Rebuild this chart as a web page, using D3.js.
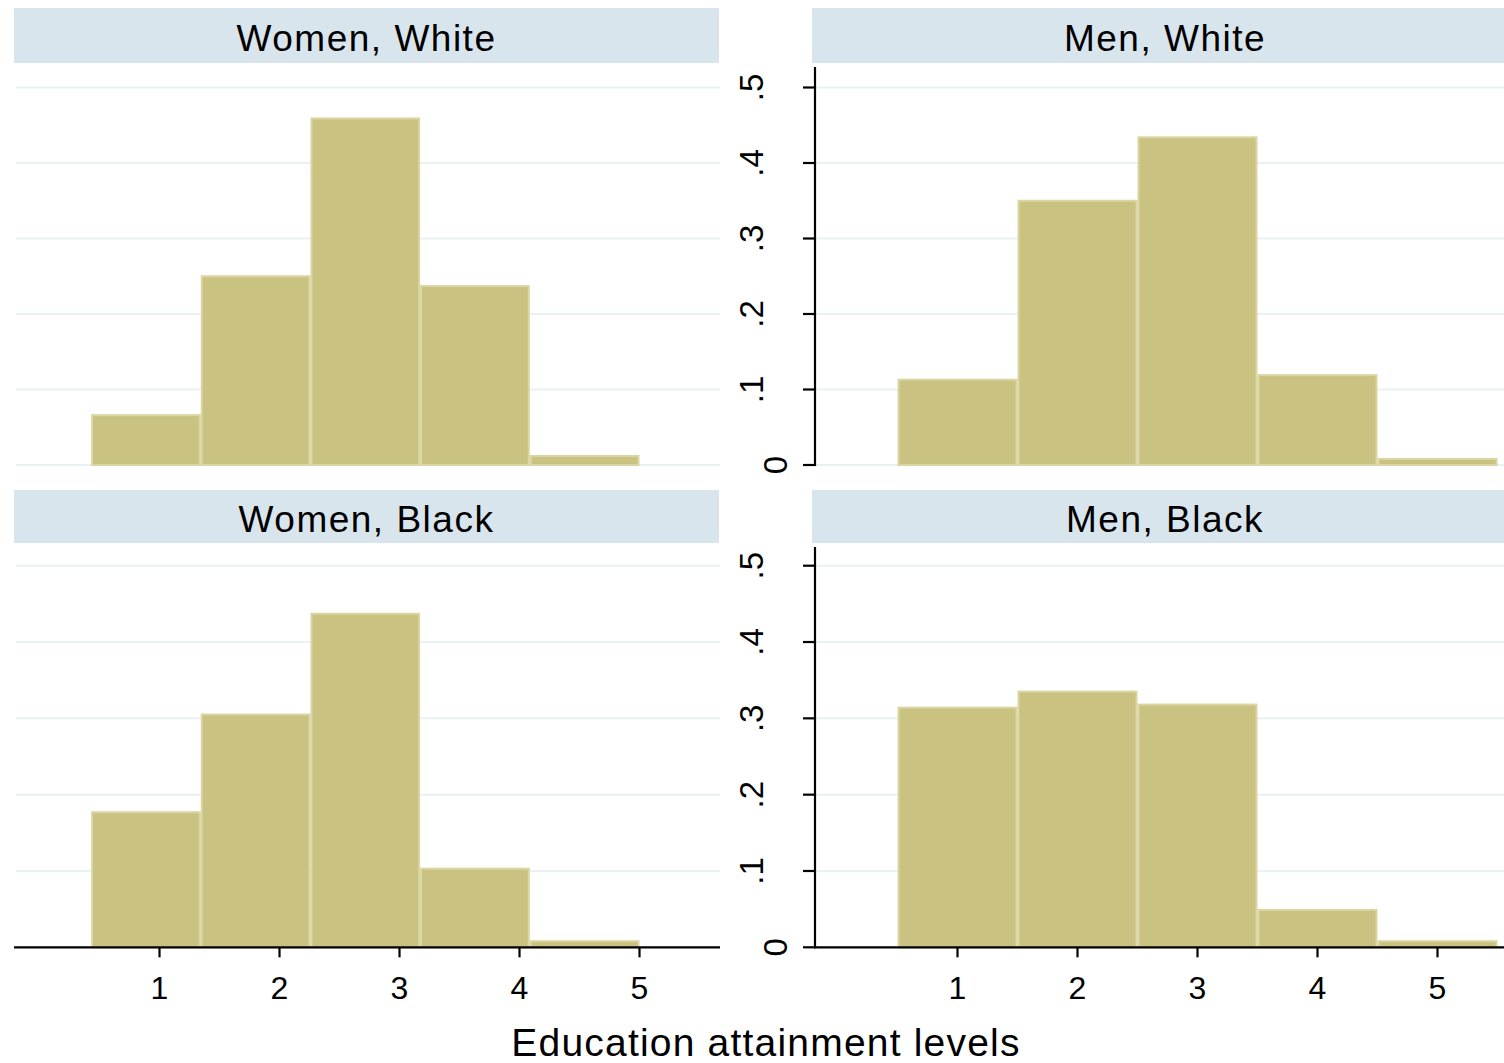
<!DOCTYPE html>
<html>
<head>
<meta charset="utf-8">
<script src="https://cdn.jsdelivr.net/npm/d3@7"></script>
<style>
  html, body { margin: 0; padding: 0; background: #ffffff; overflow: hidden; }
  svg { display: block; font-family: "Liberation Sans", Arial, sans-serif; }
</style>
</head>
<body>
<svg id="chart" width="1504" height="1063"></svg>
<script>
// Education attainment histograms by sex and race (fractions per bin)
const panelTitles = ["Women, White", "Men, White", "Women, Black", "Men, Black"];
const xTickValues = [1, 2, 3, 4, 5];
const yTickValues = [0, 0.1, 0.2, 0.3, 0.4, 0.5];
const yTickLabels = ["0", ".1", ".2", ".3", ".4", ".5"];
const axisTitle = "Education attainment levels";

// bin edges used for each sex
const womenBinEdges = [0.43, 1.344, 2.258, 3.172, 4.086, 5.0];
const menBinEdges = [0.5, 1.5, 2.5, 3.5, 4.5, 5.5];

// fraction of observations in each bin
const womenWhite = [0.066, 0.250, 0.459, 0.237, 0.012];
const menWhite = [0.113, 0.350, 0.434, 0.119, 0.008];
const womenBlack = [0.177, 0.305, 0.437, 0.103, 0.008];
const menBlack = [0.314, 0.335, 0.318, 0.049, 0.008];

const panels = [
  { title: panelTitles[0], edges: womenBinEdges, values: womenWhite, col: 0, row: 0 },
  { title: panelTitles[1], edges: menBinEdges, values: menWhite, col: 1, row: 0 },
  { title: panelTitles[2], edges: womenBinEdges, values: womenBlack, col: 0, row: 1 },
  { title: panelTitles[3], edges: menBinEdges, values: menBlack, col: 1, row: 1 }
];

const svg = d3.select("#chart");

const colors = {
  strip: "#d9e5ec",
  grid: "#eaf1f3",
  barFill: "#cac281",
  barStroke: "#dad5a3",
  axis: "#000000"
};

// layout of the 2x2 grid
const colLeft = [14, 812];
const colWidth = 706;
const axisStart = [14, 815];      // where grid lines / x axis begin
const stripBox = [{ x0: 14, x1: 719 }, { x0: 812, x1: 1518 }];
const rows = [
  { stripTop: 8, stripBottom: 63, textY: 51, y0: 465, y5: 87.5, yAxisTop: 67 },
  { stripTop: 490, stripBottom: 543, textY: 532, y0: 947.3, y5: 565.7, yAxisTop: 547 }
];

const xDomain = [1 - 145.5 / 120, 1 - 145.5 / 120 + colWidth / 120];

panels.forEach(p => {
  const r = rows[p.row];
  const left = colLeft[p.col];
  const x = d3.scaleLinear().domain(xDomain).range([left, left + colWidth]);
  const y = d3.scaleLinear().domain([0, 0.5]).range([r.y0, r.y5]);
  const g = svg.append("g");
  const gridX0 = p.col === 0 ? 16 : axisStart[1];
  const rightEdge = left + colWidth;

  // strip header
  const sb = stripBox[p.col];
  g.append("rect")
    .attr("x", sb.x0).attr("y", r.stripTop)
    .attr("width", sb.x1 - sb.x0).attr("height", r.stripBottom - r.stripTop)
    .attr("fill", colors.strip);
  g.append("text")
    .attr("x", (sb.x0 + sb.x1) / 2).attr("y", r.textY)
    .attr("text-anchor", "middle")
    .attr("font-size", 37).attr("letter-spacing", 1.5)
    .attr("fill", "#000")
    .text(p.title);

  // horizontal grid lines
  g.selectAll("line.grid").data(yTickValues).join("line")
    .attr("class", "grid")
    .attr("x1", gridX0).attr("x2", rightEdge)
    .attr("y1", d => y(d)).attr("y2", d => y(d))
    .attr("stroke", colors.grid).attr("stroke-width", 2);

  // histogram bars
  const bins = p.values.map((v, i) => ({ x0: p.edges[i], x1: p.edges[i + 1], v }));
  g.selectAll("rect.bar").data(bins).join("rect")
    .attr("class", "bar")
    .attr("x", d => x(d.x0) + 1)
    .attr("width", d => x(d.x1) - x(d.x0) - 2)
    .attr("y", d => y(d.v))
    .attr("height", d => y(0) - y(d.v))
    .attr("fill", colors.barFill)
    .attr("stroke", colors.barStroke)
    .attr("stroke-width", 2);

  // y axis on the right-hand column
  if (p.col === 1) {
    const ya = g.append("g").attr("transform", `translate(${axisStart[1]},0)`);
    ya.append("line")
      .attr("x1", 0).attr("x2", 0)
      .attr("y1", r.yAxisTop).attr("y2", y(0) + 1)
      .attr("stroke", colors.axis).attr("stroke-width", 2.2);
    ya.selectAll("line.tick").data(yTickValues).join("line")
      .attr("class", "tick")
      .attr("x1", -12).attr("x2", 0)
      .attr("y1", d => y(d)).attr("y2", d => y(d))
      .attr("stroke", colors.axis).attr("stroke-width", 2.2);
    ya.selectAll("text.tl").data(yTickValues).join("text")
      .attr("class", "tl")
      .attr("transform", (d, i) => `translate(${d === 0 ? -28 : -52},${y(d)}) rotate(-90)`)
      .attr("text-anchor", "middle")
      .attr("font-size", 33)
      .attr("fill", "#000")
      .text((d, i) => yTickLabels[i]);
  }

  // x axis on the bottom row
  if (p.row === 1) {
    const xa = g.append("g").attr("transform", `translate(0,${r.y0})`);
    xa.append("line")
      .attr("x1", axisStart[p.col] - (p.col === 1 ? 1 : 0)).attr("x2", rightEdge)
      .attr("y1", 0).attr("y2", 0)
      .attr("stroke", colors.axis).attr("stroke-width", 2.2);
    xa.selectAll("line.tick").data(xTickValues).join("line")
      .attr("class", "tick")
      .attr("x1", d => x(d)).attr("x2", d => x(d))
      .attr("y1", 0).attr("y2", 10)
      .attr("stroke", colors.axis).attr("stroke-width", 2.2);
    xa.selectAll("text.tl").data(xTickValues).join("text")
      .attr("class", "tl")
      .attr("x", d => x(d)).attr("y", 52)
      .attr("text-anchor", "middle")
      .attr("font-size", 32)
      .attr("fill", "#000")
      .text(d => d3.format("d")(d));
  }
});

// shared x-axis title
svg.append("text")
  .attr("x", (colLeft[0] + colLeft[1] + colWidth) / 2)
  .attr("y", 1056)
  .attr("text-anchor", "middle")
  .attr("font-size", 39)
  .attr("letter-spacing", 1.2)
  .attr("fill", "#000")
  .text(axisTitle);
</script>
</body>
</html>
